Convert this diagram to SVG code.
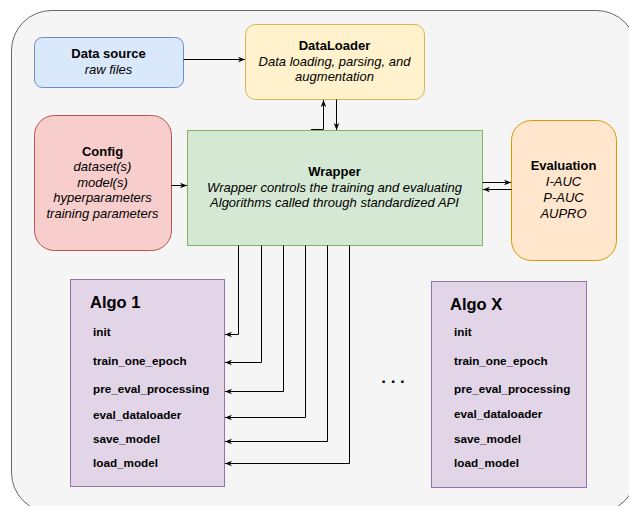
<svg xmlns="http://www.w3.org/2000/svg" width="629" height="506" viewBox="0 0 629 506">
  <style>
    text { font-family: "Liberation Sans", Arial, sans-serif; fill: #000; }
    .t { font-size: 13px; text-anchor: middle; }
    .b { font-weight: bold; }
    .i { font-style: italic; }
    .title { font-size: 16.5px; font-weight: bold; }
    .item { font-size: 11.7px; font-weight: bold; }
    .edge { fill: none; stroke: #000; stroke-width: 1; marker-end: url(#arrow); }
  </style>
  <defs>
    <marker id="arrow" viewBox="0 0 10 10" refX="10" refY="5" markerWidth="7" markerHeight="7" markerUnits="userSpaceOnUse" orient="auto">
      <path d="M0,1 L10,5 L0,9 L3,5 Z" fill="#000"/>
    </marker>
  </defs>

  <!-- background container -->
  <rect x="11.5" y="10.5" width="625" height="502" rx="40" fill="#f5f5f5" stroke="#666666"/>

  <g id="data-source">
    <rect x="34.5" y="37.5" width="149" height="50" rx="8" fill="#dae8fc" stroke="#6c8ebf"/>
    <text class="t b" x="108.5" y="58">Data source</text>
    <text class="t i" x="108.5" y="73.5">raw files</text>
  </g>

  <g id="dataloader">
    <rect x="245.5" y="24.5" width="179" height="75" rx="10" fill="#fff2cc" stroke="#d6b656"/>
    <text class="t b" x="334.5" y="49.5">DataLoader</text>
    <text class="t i" x="334.5" y="65.5">Data loading, parsing, and</text>
    <text class="t i" x="334.5" y="80.5">augmentation</text>
  </g>

  <g id="config">
    <rect x="34.5" y="115.5" width="137" height="135" rx="20" fill="#f8cecc" stroke="#b85450"/>
    <text class="t b" x="102.5" y="155.5">Config</text>
    <text class="t i" x="102.5" y="171">dataset(s)</text>
    <text class="t i" x="102.5" y="186.6">model(s)</text>
    <text class="t i" x="102.5" y="202.2">hyperparameters</text>
    <text class="t i" x="102.5" y="217.8">training parameters</text>
  </g>

  <g id="wrapper">
    <rect x="187.5" y="130.5" width="295" height="115" fill="#d5e8d4" stroke="#82b366"/>
    <text class="t b" x="334.5" y="176">Wrapper</text>
    <text class="t i" x="334.5" y="191.8">Wrapper controls the training and evaluating</text>
    <text class="t i" x="334.5" y="207.2">Algorithms called through standardized API</text>
  </g>

  <g id="evaluation">
    <rect x="511.5" y="120.5" width="105" height="140" rx="20" fill="#ffe6cc" stroke="#d79b00"/>
    <text class="t b" x="563.5" y="169.5">Evaluation</text>
    <text class="t i" x="563.5" y="185.5">I-AUC</text>
    <text class="t i" x="563.5" y="201.8">P-AUC</text>
    <text class="t i" x="563.5" y="217.8">AUPRO</text>
  </g>

  <g id="algo-1">
    <rect x="70.5" y="279.5" width="154" height="207" fill="#e1d5e7" stroke="#9673a6"/>
    <text class="title" x="90" y="308">Algo 1</text>
    <text class="item" x="93" y="336">init</text>
    <text class="item" x="93" y="364.5">train_one_epoch</text>
    <text class="item" x="93" y="393">pre_eval_processing</text>
    <text class="item" x="93" y="418.5">eval_dataloader</text>
    <text class="item" x="93" y="443">save_model</text>
    <text class="item" x="93" y="467">load_model</text>
  </g>

  <g id="algo-x">
    <rect x="431.5" y="281.5" width="155" height="206" fill="#e1d5e7" stroke="#9673a6"/>
    <text class="title" x="450" y="310">Algo X</text>
    <text class="item" x="454" y="336">init</text>
    <text class="item" x="454" y="365">train_one_epoch</text>
    <text class="item" x="454" y="393">pre_eval_processing</text>
    <text class="item" x="454" y="418">eval_dataloader</text>
    <text class="item" x="454" y="443">save_model</text>
    <text class="item" x="454" y="467">load_model</text>
  </g>

  <g id="ellipsis">
    <text x="393" y="383" style="font-size:17px;font-weight:bold;text-anchor:middle">. . .</text>
  </g>

  <g id="connectors">
    <path class="edge" d="M183.5 59.5 H245"/>
    <path class="edge" d="M171.5 185.5 H187"/>
    <path class="edge" d="M311 129.5 H323.5 V100"/>
    <path class="edge" d="M336.5 99.5 V130"/>
    <path class="edge" d="M482.5 182.5 H511"/>
    <path class="edge" d="M511.5 189.5 H483"/>
    <path class="edge" d="M238.5 245.5 V334.5 H225"/>
    <path class="edge" d="M261.5 245.5 V362.5 H225"/>
    <path class="edge" d="M283.5 245.5 V391.5 H225"/>
    <path class="edge" d="M305.5 245.5 V417.5 H225"/>
    <path class="edge" d="M327.5 245.5 V441.5 H225"/>
    <path class="edge" d="M349.5 245.5 V463.5 H225"/>
  </g>
</svg>
